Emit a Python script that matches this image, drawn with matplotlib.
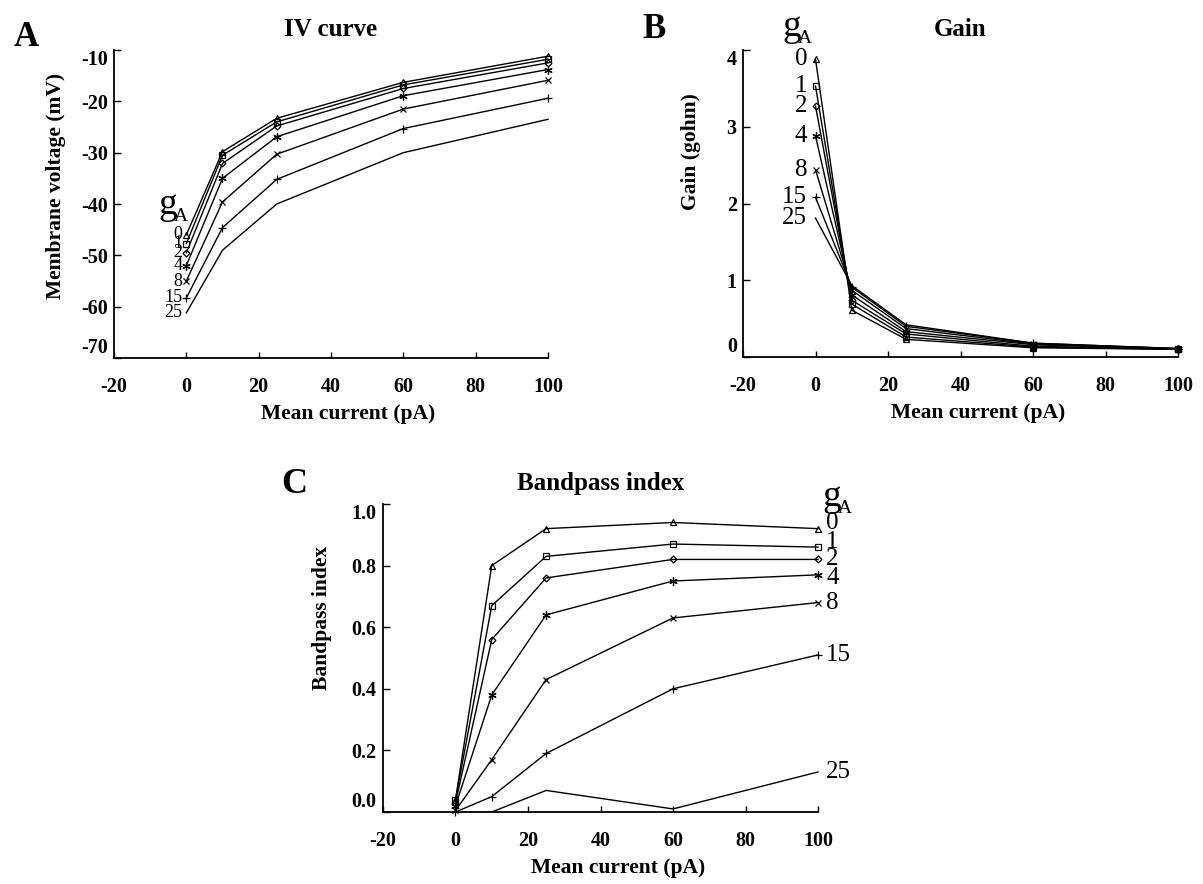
import numpy as np
import matplotlib
matplotlib.use("Agg")
import matplotlib.pyplot as plt

plt.rcParams['font.family'] = ['Liberation Serif', 'DejaVu Serif']
plt.rcParams['axes.unicode_minus'] = False

# data
current = [0, 10, 25, 60, 100]
g_labels = ['0', '1', '2', '4', '8', '15', '25']

iv_0 = [-46.0, -29.8, -23.3, -16.3, -11.2]
iv_1 = [-47.7, -30.5, -24.0, -16.8, -11.8]
iv_2 = [-49.5, -32.1, -24.8, -17.5, -12.5]
iv_4 = [-52.0, -35.0, -26.9, -18.9, -13.8]
iv_8 = [-55.0, -39.6, -30.3, -21.5, -15.9]
iv_15 = [-58.3, -44.6, -35.2, -25.3, -19.4]
iv_25 = [-61.2, -49.0, -40.0, -30.0, -23.5]

gain_0 = [3.88, 0.61, 0.23, 0.12, 0.10]
gain_1 = [3.53, 0.69, 0.26, 0.13, 0.10]
gain_2 = [3.27, 0.74, 0.30, 0.14, 0.10]
gain_4 = [2.88, 0.81, 0.33, 0.16, 0.10]
gain_8 = [2.44, 0.87, 0.37, 0.17, 0.11]
gain_15 = [2.08, 0.91, 0.40, 0.18, 0.11]
gain_25 = [1.81, 0.93, 0.42, 0.18, 0.11]

bp_0 = [0.04, 0.80, 0.92, 0.94, 0.92]
bp_1 = [0.04, 0.67, 0.83, 0.87, 0.86]
bp_2 = [0.03, 0.56, 0.76, 0.82, 0.82]
bp_4 = [0.02, 0.38, 0.64, 0.75, 0.77]
bp_8 = [0.005, 0.17, 0.43, 0.63, 0.68]
bp_15 = [0.0, 0.05, 0.19, 0.40, 0.51]
bp_25 = [np.nan, 0.0, 0.07, 0.01, 0.13]

iv = [iv_0, iv_1, iv_2, iv_4, iv_8, iv_15, iv_25]
gain = [gain_0, gain_1, gain_2, gain_4, gain_8, gain_15, gain_25]
bp = [bp_0, bp_1, bp_2, bp_4, bp_8, bp_15, bp_25]

markers = ['^', 's', 'D', (6, 2, 0), 'x', '+', None]
msizes = [5, 5, 3.5, 6, 5, 6, 0]

fig = plt.figure(figsize=(12.03, 8.84), dpi=100)
axA = fig.add_axes([0.09476, 0.59502, 0.36077, 0.34842])
axB = fig.add_axes([0.61763, 0.59615, 0.36160, 0.34729])
axC = fig.add_axes([0.31837, 0.08145, 0.36160, 0.34842])


def style(ax, ylim, yticks, yfmt, title, xlabel, ylabel, ylab_xy):
    ax.set_xlim(-20, 100)
    ax.set_ylim(*ylim)
    ax.set_xticks(range(-20, 101, 20))
    ax.set_yticks(yticks)
    ax.set_yticklabels([yfmt.format(v) for v in yticks])
    for s in ['top', 'right']:
        ax.spines[s].set_visible(False)
    for s in ['left', 'bottom']:
        ax.spines[s].set_linewidth(1.3)
    ax.tick_params(axis='x', direction='in', length=4.5, width=1, pad=14, labelsize=14.5)
    ax.tick_params(axis='y', direction='in', length=5, width=1, pad=4.5, labelsize=14.5)
    for lab in ax.get_xticklabels() + ax.get_yticklabels():
        lab.set_fontweight('bold')
    ylabs = ax.get_yticklabels()
    ylabs[0].set_va('bottom')
    ylabs[-1].set_va('top')
    ax.text(0.5, 1.068, title, transform=ax.transAxes, ha='center', va='center',
            fontsize=18, fontweight='bold')
    ax.set_xlabel(xlabel, fontsize=15.5, fontweight='bold')
    ax.xaxis.set_label_coords(0.54, -0.15)
    ax.set_ylabel(ylabel, fontsize=15.5, fontweight='bold')
    ax.yaxis.set_label_coords(*ylab_xy)


def draw(ax, series):
    for ys, m, ms in zip(series, markers, msizes):
        ax.plot(current, ys, color='black', lw=1.0, marker=m, markersize=ms,
                markerfacecolor='none', markeredgewidth=0.9, clip_on=False)


def g_a(ax, x, y):
    # "g" with a subscript "A", placed by the baseline of the g
    ax.text(x, y, 'g', ha='left', va='baseline', fontsize=27, clip_on=False)
    ax.annotate('A', (x, y), xytext=(11.5, -5), textcoords='offset points',
                ha='left', va='baseline', fontsize=14, annotation_clip=False)


# A: IV curve
draw(axA, iv)
style(axA, (-70, -10), list(range(-70, -9, 10)), '{:d}', 'IV curve',
      'Mean current (pA)', 'Membrane voltage (mV)', (-0.11, 0.56))
for lab, ys in zip(g_labels, iv):
    axA.annotate(lab, (current[0], ys[0]), xytext=(-3, 0), textcoords='offset points',
                 ha='right', va='center', fontsize=13)
g_a(axA, -7.8, -42.0)

# B: Gain
draw(axB, gain)
style(axB, (0, 4), [0, 1, 2, 3, 4], '{:d}', 'Gain',
      'Mean current (pA)', 'Gain (gohm)', (-0.097, 0.67))
for lab, ys in zip(g_labels, gain):
    axB.annotate(lab, (current[0], ys[0]), xytext=(-6, 0), textcoords='offset points',
                 ha='right', va='center', fontsize=18)
g_a(axB, -9.2, 4.185)

# C: Bandpass index
draw(axC, bp)
style(axC, (0, 1), [0.0, 0.2, 0.4, 0.6, 0.8, 1.0], '{:.1f}', 'Bandpass index',
      'Mean current (pA)', 'Bandpass index', (-0.117, 0.63))
c_nudge = [4, 3.5, 0, -2, 0, 0, 0]
for lab, ys, dy in zip(g_labels, bp, c_nudge):
    axC.annotate(lab, (current[-1], ys[-1]), xytext=(6, dy), textcoords='offset points',
                 ha='left', va='center', fontsize=18)
g_a(axC, 101.1, 0.994)

fig.text(0.0216, 0.958, 'A', ha='center', va='center', fontsize=25, fontweight='bold')
fig.text(0.5436, 0.967, 'B', ha='center', va='center', fontsize=25, fontweight='bold')
fig.text(0.2444, 0.4514, 'C', ha='center', va='center', fontsize=26, fontweight='bold')

fig.savefig('out.png', dpi=100)
